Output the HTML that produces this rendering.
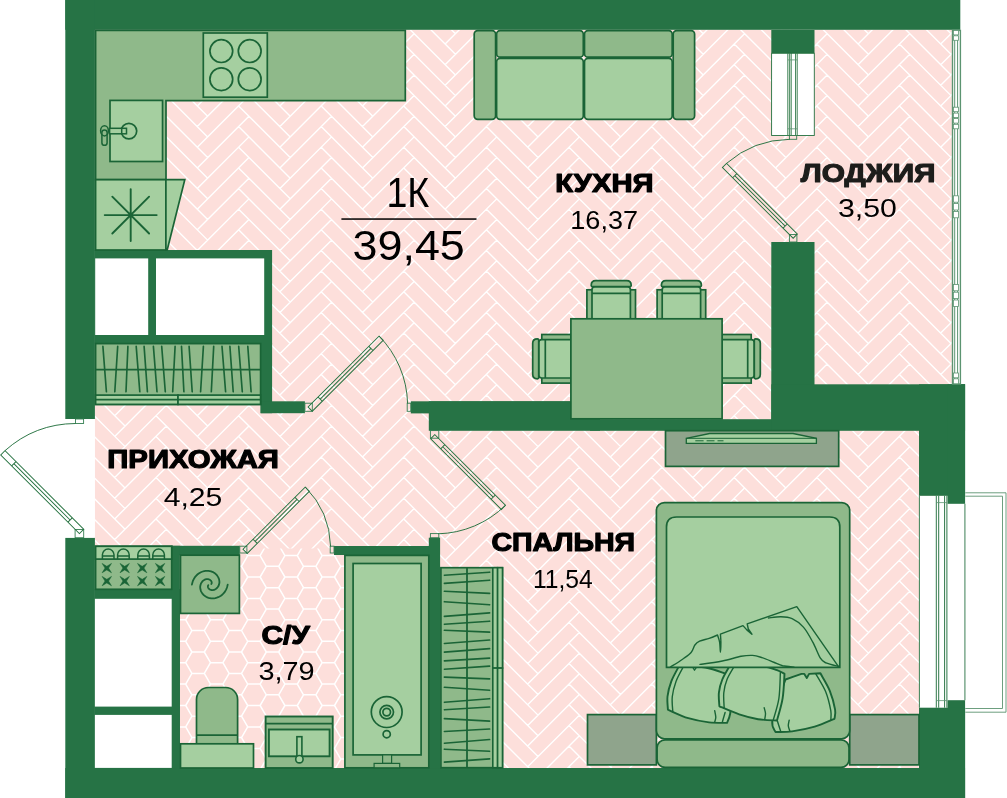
<!DOCTYPE html>
<html lang="ru"><head><meta charset="utf-8"><title>1К 39,45</title>
<style>html,body{margin:0;padding:0;background:#fff}svg{display:block}text{font-family:"Liberation Sans",sans-serif;fill:#000}.b{font-weight:700}</style></head>
<body>
<svg width="1007" height="798" viewBox="0 0 1007 798">
<defs><clipPath id="cf"><rect x="94.5" y="29.5" width="858.5" height="739.5"/></clipPath><clipPath id="cb"><path d="M179.5 555H239.8V548.6H334V555H345V769H179.5Z"/></clipPath></defs>
<rect width="1007" height="798" fill="#fff"/>
<!-- floors -->
<rect x="94.5" y="29.5" width="858.5" height="739.5" fill="#fddfdb"/>
<path clip-path="url(#cf)" d="M73.4 -17.9l51.62 51.62M73.4 2.7l51.62 51.62M73.4 23.3l51.62 51.62M73.4 44.0l51.62 51.62M73.4 64.7l51.62 51.62M73.4 85.3l51.62 51.62M73.4 105.9l51.62 51.62M73.4 126.6l51.62 51.62M73.4 147.2l51.62 51.62M73.4 167.9l51.62 51.62M73.4 188.5l51.62 51.62M73.4 209.2l51.62 51.62M73.4 229.8l51.62 51.62M73.4 250.5l51.62 51.62M73.4 271.1l51.62 51.62M73.4 291.8l51.62 51.62M73.4 312.4l51.62 51.62M73.4 333.1l51.62 51.62M73.4 353.8l51.62 51.62M73.4 374.4l51.62 51.62M73.4 395.0l51.62 51.62M73.4 415.7l51.62 51.62M73.4 436.4l51.62 51.62M73.4 457.0l51.62 51.62M73.4 477.6l51.62 51.62M73.4 498.3l51.62 51.62M73.4 518.9l51.62 51.62M73.4 539.6l51.62 51.62M73.4 560.2l51.62 51.62M73.4 580.9l51.62 51.62M73.4 601.5l51.62 51.62M73.4 622.2l51.62 51.62M73.4 642.9l51.62 51.62M73.4 663.5l51.62 51.62M73.4 684.1l51.62 51.62M73.4 704.8l51.62 51.62M73.4 725.4l51.62 51.62M73.4 746.1l51.62 51.62M73.4 766.8l51.62 51.62M156.0 -17.9l51.62 51.62M156.0 2.7l51.62 51.62M156.0 23.3l51.62 51.62M114.7 44.0l51.62 -51.62M156.0 44.0l51.62 51.62M114.7 64.7l51.62 -51.62M156.0 64.7l51.62 51.62M114.7 85.3l51.62 -51.62M156.0 85.3l51.62 51.62M114.7 105.9l51.62 -51.62M156.0 105.9l51.62 51.62M114.7 126.6l51.62 -51.62M156.0 126.6l51.62 51.62M114.7 147.2l51.62 -51.62M156.0 147.2l51.62 51.62M114.7 167.9l51.62 -51.62M156.0 167.9l51.62 51.62M114.7 188.5l51.62 -51.62M156.0 188.5l51.62 51.62M114.7 209.2l51.62 -51.62M156.0 209.2l51.62 51.62M114.7 229.8l51.62 -51.62M156.0 229.8l51.62 51.62M114.7 250.5l51.62 -51.62M156.0 250.5l51.62 51.62M114.7 271.1l51.62 -51.62M156.0 271.1l51.62 51.62M114.7 291.8l51.62 -51.62M156.0 291.8l51.62 51.62M114.7 312.4l51.62 -51.62M156.0 312.4l51.62 51.62M114.7 333.1l51.62 -51.62M156.0 333.1l51.62 51.62M114.7 353.8l51.62 -51.62M156.0 353.8l51.62 51.62M114.7 374.4l51.62 -51.62M156.0 374.4l51.62 51.62M114.7 395.0l51.62 -51.62M156.0 395.0l51.62 51.62M114.7 415.7l51.62 -51.62M156.0 415.7l51.62 51.62M114.7 436.4l51.62 -51.62M156.0 436.4l51.62 51.62M114.7 457.0l51.62 -51.62M156.0 457.0l51.62 51.62M114.7 477.6l51.62 -51.62M156.0 477.6l51.62 51.62M114.7 498.3l51.62 -51.62M156.0 498.3l51.62 51.62M114.7 518.9l51.62 -51.62M156.0 518.9l51.62 51.62M114.7 539.6l51.62 -51.62M156.0 539.6l51.62 51.62M114.7 560.2l51.62 -51.62M156.0 560.2l51.62 51.62M114.7 580.9l51.62 -51.62M156.0 580.9l51.62 51.62M114.7 601.5l51.62 -51.62M156.0 601.5l51.62 51.62M114.7 622.2l51.62 -51.62M156.0 622.2l51.62 51.62M114.7 642.9l51.62 -51.62M156.0 642.9l51.62 51.62M114.7 663.5l51.62 -51.62M156.0 663.5l51.62 51.62M114.7 684.1l51.62 -51.62M156.0 684.1l51.62 51.62M114.7 704.8l51.62 -51.62M156.0 704.8l51.62 51.62M114.7 725.4l51.62 -51.62M156.0 725.4l51.62 51.62M114.7 746.1l51.62 -51.62M156.0 746.1l51.62 51.62M114.7 766.8l51.62 -51.62M156.0 766.8l51.62 51.62M114.7 787.4l51.62 -51.62M114.7 808.0l51.62 -51.62M238.6 -17.9l51.62 51.62M238.6 2.7l51.62 51.62M238.6 23.3l51.62 51.62M197.3 44.0l51.62 -51.62M238.6 44.0l51.62 51.62M197.3 64.7l51.62 -51.62M238.6 64.7l51.62 51.62M197.3 85.3l51.62 -51.62M238.6 85.3l51.62 51.62M197.3 105.9l51.62 -51.62M238.6 105.9l51.62 51.62M197.3 126.6l51.62 -51.62M238.6 126.6l51.62 51.62M197.3 147.2l51.62 -51.62M238.6 147.2l51.62 51.62M197.3 167.9l51.62 -51.62M238.6 167.9l51.62 51.62M197.3 188.5l51.62 -51.62M238.6 188.5l51.62 51.62M197.3 209.2l51.62 -51.62M238.6 209.2l51.62 51.62M197.3 229.8l51.62 -51.62M238.6 229.8l51.62 51.62M197.3 250.5l51.62 -51.62M238.6 250.5l51.62 51.62M197.3 271.1l51.62 -51.62M238.6 271.1l51.62 51.62M197.3 291.8l51.62 -51.62M238.6 291.8l51.62 51.62M197.3 312.4l51.62 -51.62M238.6 312.4l51.62 51.62M197.3 333.1l51.62 -51.62M238.6 333.1l51.62 51.62M197.3 353.8l51.62 -51.62M238.6 353.8l51.62 51.62M197.3 374.4l51.62 -51.62M238.6 374.4l51.62 51.62M197.3 395.0l51.62 -51.62M238.6 395.0l51.62 51.62M197.3 415.7l51.62 -51.62M238.6 415.7l51.62 51.62M197.3 436.4l51.62 -51.62M238.6 436.4l51.62 51.62M197.3 457.0l51.62 -51.62M238.6 457.0l51.62 51.62M197.3 477.6l51.62 -51.62M238.6 477.6l51.62 51.62M197.3 498.3l51.62 -51.62M238.6 498.3l51.62 51.62M197.3 518.9l51.62 -51.62M238.6 518.9l51.62 51.62M197.3 539.6l51.62 -51.62M238.6 539.6l51.62 51.62M197.3 560.2l51.62 -51.62M238.6 560.2l51.62 51.62M197.3 580.9l51.62 -51.62M238.6 580.9l51.62 51.62M197.3 601.5l51.62 -51.62M238.6 601.5l51.62 51.62M197.3 622.2l51.62 -51.62M238.6 622.2l51.62 51.62M197.3 642.9l51.62 -51.62M238.6 642.9l51.62 51.62M197.3 663.5l51.62 -51.62M238.6 663.5l51.62 51.62M197.3 684.1l51.62 -51.62M238.6 684.1l51.62 51.62M197.3 704.8l51.62 -51.62M238.6 704.8l51.62 51.62M197.3 725.4l51.62 -51.62M238.6 725.4l51.62 51.62M197.3 746.1l51.62 -51.62M238.6 746.1l51.62 51.62M197.3 766.8l51.62 -51.62M238.6 766.8l51.62 51.62M197.3 787.4l51.62 -51.62M197.3 808.0l51.62 -51.62M321.2 -17.9l51.62 51.62M321.2 2.7l51.62 51.62M321.2 23.3l51.62 51.62M279.9 44.0l51.62 -51.62M321.2 44.0l51.62 51.62M279.9 64.7l51.62 -51.62M321.2 64.7l51.62 51.62M279.9 85.3l51.62 -51.62M321.2 85.3l51.62 51.62M279.9 105.9l51.62 -51.62M321.2 105.9l51.62 51.62M279.9 126.6l51.62 -51.62M321.2 126.6l51.62 51.62M279.9 147.2l51.62 -51.62M321.2 147.2l51.62 51.62M279.9 167.9l51.62 -51.62M321.2 167.9l51.62 51.62M279.9 188.5l51.62 -51.62M321.2 188.5l51.62 51.62M279.9 209.2l51.62 -51.62M321.2 209.2l51.62 51.62M279.9 229.8l51.62 -51.62M321.2 229.8l51.62 51.62M279.9 250.5l51.62 -51.62M321.2 250.5l51.62 51.62M279.9 271.1l51.62 -51.62M321.2 271.1l51.62 51.62M279.9 291.8l51.62 -51.62M321.2 291.8l51.62 51.62M279.9 312.4l51.62 -51.62M321.2 312.4l51.62 51.62M279.9 333.1l51.62 -51.62M321.2 333.1l51.62 51.62M279.9 353.8l51.62 -51.62M321.2 353.8l51.62 51.62M279.9 374.4l51.62 -51.62M321.2 374.4l51.62 51.62M279.9 395.0l51.62 -51.62M321.2 395.0l51.62 51.62M279.9 415.7l51.62 -51.62M321.2 415.7l51.62 51.62M279.9 436.4l51.62 -51.62M321.2 436.4l51.62 51.62M279.9 457.0l51.62 -51.62M321.2 457.0l51.62 51.62M279.9 477.6l51.62 -51.62M321.2 477.6l51.62 51.62M279.9 498.3l51.62 -51.62M321.2 498.3l51.62 51.62M279.9 518.9l51.62 -51.62M321.2 518.9l51.62 51.62M279.9 539.6l51.62 -51.62M321.2 539.6l51.62 51.62M279.9 560.2l51.62 -51.62M321.2 560.2l51.62 51.62M279.9 580.9l51.62 -51.62M321.2 580.9l51.62 51.62M279.9 601.5l51.62 -51.62M321.2 601.5l51.62 51.62M279.9 622.2l51.62 -51.62M321.2 622.2l51.62 51.62M279.9 642.9l51.62 -51.62M321.2 642.9l51.62 51.62M279.9 663.5l51.62 -51.62M321.2 663.5l51.62 51.62M279.9 684.1l51.62 -51.62M321.2 684.1l51.62 51.62M279.9 704.8l51.62 -51.62M321.2 704.8l51.62 51.62M279.9 725.4l51.62 -51.62M321.2 725.4l51.62 51.62M279.9 746.1l51.62 -51.62M321.2 746.1l51.62 51.62M279.9 766.8l51.62 -51.62M321.2 766.8l51.62 51.62M279.9 787.4l51.62 -51.62M279.9 808.0l51.62 -51.62M403.8 -17.9l51.62 51.62M403.8 2.7l51.62 51.62M403.8 23.3l51.62 51.62M362.5 44.0l51.62 -51.62M403.8 44.0l51.62 51.62M362.5 64.7l51.62 -51.62M403.8 64.7l51.62 51.62M362.5 85.3l51.62 -51.62M403.8 85.3l51.62 51.62M362.5 105.9l51.62 -51.62M403.8 105.9l51.62 51.62M362.5 126.6l51.62 -51.62M403.8 126.6l51.62 51.62M362.5 147.2l51.62 -51.62M403.8 147.2l51.62 51.62M362.5 167.9l51.62 -51.62M403.8 167.9l51.62 51.62M362.5 188.5l51.62 -51.62M403.8 188.5l51.62 51.62M362.5 209.2l51.62 -51.62M403.8 209.2l51.62 51.62M362.5 229.8l51.62 -51.62M403.8 229.8l51.62 51.62M362.5 250.5l51.62 -51.62M403.8 250.5l51.62 51.62M362.5 271.1l51.62 -51.62M403.8 271.1l51.62 51.62M362.5 291.8l51.62 -51.62M403.8 291.8l51.62 51.62M362.5 312.4l51.62 -51.62M403.8 312.4l51.62 51.62M362.5 333.1l51.62 -51.62M403.8 333.1l51.62 51.62M362.5 353.8l51.62 -51.62M403.8 353.8l51.62 51.62M362.5 374.4l51.62 -51.62M403.8 374.4l51.62 51.62M362.5 395.0l51.62 -51.62M403.8 395.0l51.62 51.62M362.5 415.7l51.62 -51.62M403.8 415.7l51.62 51.62M362.5 436.4l51.62 -51.62M403.8 436.4l51.62 51.62M362.5 457.0l51.62 -51.62M403.8 457.0l51.62 51.62M362.5 477.6l51.62 -51.62M403.8 477.6l51.62 51.62M362.5 498.3l51.62 -51.62M403.8 498.3l51.62 51.62M362.5 518.9l51.62 -51.62M403.8 518.9l51.62 51.62M362.5 539.6l51.62 -51.62M403.8 539.6l51.62 51.62M362.5 560.2l51.62 -51.62M403.8 560.2l51.62 51.62M362.5 580.9l51.62 -51.62M403.8 580.9l51.62 51.62M362.5 601.5l51.62 -51.62M403.8 601.5l51.62 51.62M362.5 622.2l51.62 -51.62M403.8 622.2l51.62 51.62M362.5 642.9l51.62 -51.62M403.8 642.9l51.62 51.62M362.5 663.5l51.62 -51.62M403.8 663.5l51.62 51.62M362.5 684.1l51.62 -51.62M403.8 684.1l51.62 51.62M362.5 704.8l51.62 -51.62M403.8 704.8l51.62 51.62M362.5 725.4l51.62 -51.62M403.8 725.4l51.62 51.62M362.5 746.1l51.62 -51.62M403.8 746.1l51.62 51.62M362.5 766.8l51.62 -51.62M403.8 766.8l51.62 51.62M362.5 787.4l51.62 -51.62M362.5 808.0l51.62 -51.62M486.4 -17.9l51.62 51.62M486.4 2.7l51.62 51.62M486.4 23.3l51.62 51.62M445.1 44.0l51.62 -51.62M486.4 44.0l51.62 51.62M445.1 64.7l51.62 -51.62M486.4 64.7l51.62 51.62M445.1 85.3l51.62 -51.62M486.4 85.3l51.62 51.62M445.1 105.9l51.62 -51.62M486.4 105.9l51.62 51.62M445.1 126.6l51.62 -51.62M486.4 126.6l51.62 51.62M445.1 147.2l51.62 -51.62M486.4 147.2l51.62 51.62M445.1 167.9l51.62 -51.62M486.4 167.9l51.62 51.62M445.1 188.5l51.62 -51.62M486.4 188.5l51.62 51.62M445.1 209.2l51.62 -51.62M486.4 209.2l51.62 51.62M445.1 229.8l51.62 -51.62M486.4 229.8l51.62 51.62M445.1 250.5l51.62 -51.62M486.4 250.5l51.62 51.62M445.1 271.1l51.62 -51.62M486.4 271.1l51.62 51.62M445.1 291.8l51.62 -51.62M486.4 291.8l51.62 51.62M445.1 312.4l51.62 -51.62M486.4 312.4l51.62 51.62M445.1 333.1l51.62 -51.62M486.4 333.1l51.62 51.62M445.1 353.8l51.62 -51.62M486.4 353.8l51.62 51.62M445.1 374.4l51.62 -51.62M486.4 374.4l51.62 51.62M445.1 395.0l51.62 -51.62M486.4 395.0l51.62 51.62M445.1 415.7l51.62 -51.62M486.4 415.7l51.62 51.62M445.1 436.4l51.62 -51.62M486.4 436.4l51.62 51.62M445.1 457.0l51.62 -51.62M486.4 457.0l51.62 51.62M445.1 477.6l51.62 -51.62M486.4 477.6l51.62 51.62M445.1 498.3l51.62 -51.62M486.4 498.3l51.62 51.62M445.1 518.9l51.62 -51.62M486.4 518.9l51.62 51.62M445.1 539.6l51.62 -51.62M486.4 539.6l51.62 51.62M445.1 560.2l51.62 -51.62M486.4 560.2l51.62 51.62M445.1 580.9l51.62 -51.62M486.4 580.9l51.62 51.62M445.1 601.5l51.62 -51.62M486.4 601.5l51.62 51.62M445.1 622.2l51.62 -51.62M486.4 622.2l51.62 51.62M445.1 642.9l51.62 -51.62M486.4 642.9l51.62 51.62M445.1 663.5l51.62 -51.62M486.4 663.5l51.62 51.62M445.1 684.1l51.62 -51.62M486.4 684.1l51.62 51.62M445.1 704.8l51.62 -51.62M486.4 704.8l51.62 51.62M445.1 725.4l51.62 -51.62M486.4 725.4l51.62 51.62M445.1 746.1l51.62 -51.62M486.4 746.1l51.62 51.62M445.1 766.8l51.62 -51.62M486.4 766.8l51.62 51.62M445.1 787.4l51.62 -51.62M445.1 808.0l51.62 -51.62M569.0 -17.9l51.62 51.62M569.0 2.7l51.62 51.62M569.0 23.3l51.62 51.62M527.7 44.0l51.62 -51.62M569.0 44.0l51.62 51.62M527.7 64.7l51.62 -51.62M569.0 64.7l51.62 51.62M527.7 85.3l51.62 -51.62M569.0 85.3l51.62 51.62M527.7 105.9l51.62 -51.62M569.0 105.9l51.62 51.62M527.7 126.6l51.62 -51.62M569.0 126.6l51.62 51.62M527.7 147.2l51.62 -51.62M569.0 147.2l51.62 51.62M527.7 167.9l51.62 -51.62M569.0 167.9l51.62 51.62M527.7 188.5l51.62 -51.62M569.0 188.5l51.62 51.62M527.7 209.2l51.62 -51.62M569.0 209.2l51.62 51.62M527.7 229.8l51.62 -51.62M569.0 229.8l51.62 51.62M527.7 250.5l51.62 -51.62M569.0 250.5l51.62 51.62M527.7 271.1l51.62 -51.62M569.0 271.1l51.62 51.62M527.7 291.8l51.62 -51.62M569.0 291.8l51.62 51.62M527.7 312.4l51.62 -51.62M569.0 312.4l51.62 51.62M527.7 333.1l51.62 -51.62M569.0 333.1l51.62 51.62M527.7 353.8l51.62 -51.62M569.0 353.8l51.62 51.62M527.7 374.4l51.62 -51.62M569.0 374.4l51.62 51.62M527.7 395.0l51.62 -51.62M569.0 395.0l51.62 51.62M527.7 415.7l51.62 -51.62M569.0 415.7l51.62 51.62M527.7 436.4l51.62 -51.62M569.0 436.4l51.62 51.62M527.7 457.0l51.62 -51.62M569.0 457.0l51.62 51.62M527.7 477.6l51.62 -51.62M569.0 477.6l51.62 51.62M527.7 498.3l51.62 -51.62M569.0 498.3l51.62 51.62M527.7 518.9l51.62 -51.62M569.0 518.9l51.62 51.62M527.7 539.6l51.62 -51.62M569.0 539.6l51.62 51.62M527.7 560.2l51.62 -51.62M569.0 560.2l51.62 51.62M527.7 580.9l51.62 -51.62M569.0 580.9l51.62 51.62M527.7 601.5l51.62 -51.62M569.0 601.5l51.62 51.62M527.7 622.2l51.62 -51.62M569.0 622.2l51.62 51.62M527.7 642.9l51.62 -51.62M569.0 642.9l51.62 51.62M527.7 663.5l51.62 -51.62M569.0 663.5l51.62 51.62M527.7 684.1l51.62 -51.62M569.0 684.1l51.62 51.62M527.7 704.8l51.62 -51.62M569.0 704.8l51.62 51.62M527.7 725.4l51.62 -51.62M569.0 725.4l51.62 51.62M527.7 746.1l51.62 -51.62M569.0 746.1l51.62 51.62M527.7 766.8l51.62 -51.62M569.0 766.8l51.62 51.62M527.7 787.4l51.62 -51.62M527.7 808.0l51.62 -51.62M651.6 -17.9l51.62 51.62M651.6 2.7l51.62 51.62M651.6 23.3l51.62 51.62M610.3 44.0l51.62 -51.62M651.6 44.0l51.62 51.62M610.3 64.7l51.62 -51.62M651.6 64.7l51.62 51.62M610.3 85.3l51.62 -51.62M651.6 85.3l51.62 51.62M610.3 105.9l51.62 -51.62M651.6 105.9l51.62 51.62M610.3 126.6l51.62 -51.62M651.6 126.6l51.62 51.62M610.3 147.2l51.62 -51.62M651.6 147.2l51.62 51.62M610.3 167.9l51.62 -51.62M651.6 167.9l51.62 51.62M610.3 188.5l51.62 -51.62M651.6 188.5l51.62 51.62M610.3 209.2l51.62 -51.62M651.6 209.2l51.62 51.62M610.3 229.8l51.62 -51.62M651.6 229.8l51.62 51.62M610.3 250.5l51.62 -51.62M651.6 250.5l51.62 51.62M610.3 271.1l51.62 -51.62M651.6 271.1l51.62 51.62M610.3 291.8l51.62 -51.62M651.6 291.8l51.62 51.62M610.3 312.4l51.62 -51.62M651.6 312.4l51.62 51.62M610.3 333.1l51.62 -51.62M651.6 333.1l51.62 51.62M610.3 353.8l51.62 -51.62M651.6 353.8l51.62 51.62M610.3 374.4l51.62 -51.62M651.6 374.4l51.62 51.62M610.3 395.0l51.62 -51.62M651.6 395.0l51.62 51.62M610.3 415.7l51.62 -51.62M651.6 415.7l51.62 51.62M610.3 436.4l51.62 -51.62M651.6 436.4l51.62 51.62M610.3 457.0l51.62 -51.62M651.6 457.0l51.62 51.62M610.3 477.6l51.62 -51.62M651.6 477.6l51.62 51.62M610.3 498.3l51.62 -51.62M651.6 498.3l51.62 51.62M610.3 518.9l51.62 -51.62M651.6 518.9l51.62 51.62M610.3 539.6l51.62 -51.62M651.6 539.6l51.62 51.62M610.3 560.2l51.62 -51.62M651.6 560.2l51.62 51.62M610.3 580.9l51.62 -51.62M651.6 580.9l51.62 51.62M610.3 601.5l51.62 -51.62M651.6 601.5l51.62 51.62M610.3 622.2l51.62 -51.62M651.6 622.2l51.62 51.62M610.3 642.9l51.62 -51.62M651.6 642.9l51.62 51.62M610.3 663.5l51.62 -51.62M651.6 663.5l51.62 51.62M610.3 684.1l51.62 -51.62M651.6 684.1l51.62 51.62M610.3 704.8l51.62 -51.62M651.6 704.8l51.62 51.62M610.3 725.4l51.62 -51.62M651.6 725.4l51.62 51.62M610.3 746.1l51.62 -51.62M651.6 746.1l51.62 51.62M610.3 766.8l51.62 -51.62M651.6 766.8l51.62 51.62M610.3 787.4l51.62 -51.62M610.3 808.0l51.62 -51.62M734.2 -17.9l51.62 51.62M734.2 2.7l51.62 51.62M734.2 23.3l51.62 51.62M692.9 44.0l51.62 -51.62M734.2 44.0l51.62 51.62M692.9 64.7l51.62 -51.62M734.2 64.7l51.62 51.62M692.9 85.3l51.62 -51.62M734.2 85.3l51.62 51.62M692.9 105.9l51.62 -51.62M734.2 105.9l51.62 51.62M692.9 126.6l51.62 -51.62M734.2 126.6l51.62 51.62M692.9 147.2l51.62 -51.62M734.2 147.2l51.62 51.62M692.9 167.9l51.62 -51.62M734.2 167.9l51.62 51.62M692.9 188.5l51.62 -51.62M734.2 188.5l51.62 51.62M692.9 209.2l51.62 -51.62M734.2 209.2l51.62 51.62M692.9 229.8l51.62 -51.62M734.2 229.8l51.62 51.62M692.9 250.5l51.62 -51.62M734.2 250.5l51.62 51.62M692.9 271.1l51.62 -51.62M734.2 271.1l51.62 51.62M692.9 291.8l51.62 -51.62M734.2 291.8l51.62 51.62M692.9 312.4l51.62 -51.62M734.2 312.4l51.62 51.62M692.9 333.1l51.62 -51.62M734.2 333.1l51.62 51.62M692.9 353.8l51.62 -51.62M734.2 353.8l51.62 51.62M692.9 374.4l51.62 -51.62M734.2 374.4l51.62 51.62M692.9 395.0l51.62 -51.62M734.2 395.0l51.62 51.62M692.9 415.7l51.62 -51.62M734.2 415.7l51.62 51.62M692.9 436.4l51.62 -51.62M734.2 436.4l51.62 51.62M692.9 457.0l51.62 -51.62M734.2 457.0l51.62 51.62M692.9 477.6l51.62 -51.62M734.2 477.6l51.62 51.62M692.9 498.3l51.62 -51.62M734.2 498.3l51.62 51.62M692.9 518.9l51.62 -51.62M734.2 518.9l51.62 51.62M692.9 539.6l51.62 -51.62M734.2 539.6l51.62 51.62M692.9 560.2l51.62 -51.62M734.2 560.2l51.62 51.62M692.9 580.9l51.62 -51.62M734.2 580.9l51.62 51.62M692.9 601.5l51.62 -51.62M734.2 601.5l51.62 51.62M692.9 622.2l51.62 -51.62M734.2 622.2l51.62 51.62M692.9 642.9l51.62 -51.62M734.2 642.9l51.62 51.62M692.9 663.5l51.62 -51.62M734.2 663.5l51.62 51.62M692.9 684.1l51.62 -51.62M734.2 684.1l51.62 51.62M692.9 704.8l51.62 -51.62M734.2 704.8l51.62 51.62M692.9 725.4l51.62 -51.62M734.2 725.4l51.62 51.62M692.9 746.1l51.62 -51.62M734.2 746.1l51.62 51.62M692.9 766.8l51.62 -51.62M734.2 766.8l51.62 51.62M692.9 787.4l51.62 -51.62M692.9 808.0l51.62 -51.62M816.8 -17.9l51.62 51.62M816.8 2.7l51.62 51.62M816.8 23.3l51.62 51.62M775.5 44.0l51.62 -51.62M816.8 44.0l51.62 51.62M775.5 64.7l51.62 -51.62M816.8 64.7l51.62 51.62M775.5 85.3l51.62 -51.62M816.8 85.3l51.62 51.62M775.5 105.9l51.62 -51.62M816.8 105.9l51.62 51.62M775.5 126.6l51.62 -51.62M816.8 126.6l51.62 51.62M775.5 147.2l51.62 -51.62M816.8 147.2l51.62 51.62M775.5 167.9l51.62 -51.62M816.8 167.9l51.62 51.62M775.5 188.5l51.62 -51.62M816.8 188.5l51.62 51.62M775.5 209.2l51.62 -51.62M816.8 209.2l51.62 51.62M775.5 229.8l51.62 -51.62M816.8 229.8l51.62 51.62M775.5 250.5l51.62 -51.62M816.8 250.5l51.62 51.62M775.5 271.1l51.62 -51.62M816.8 271.1l51.62 51.62M775.5 291.8l51.62 -51.62M816.8 291.8l51.62 51.62M775.5 312.4l51.62 -51.62M816.8 312.4l51.62 51.62M775.5 333.1l51.62 -51.62M816.8 333.1l51.62 51.62M775.5 353.8l51.62 -51.62M816.8 353.8l51.62 51.62M775.5 374.4l51.62 -51.62M816.8 374.4l51.62 51.62M775.5 395.0l51.62 -51.62M816.8 395.0l51.62 51.62M775.5 415.7l51.62 -51.62M816.8 415.7l51.62 51.62M775.5 436.4l51.62 -51.62M816.8 436.4l51.62 51.62M775.5 457.0l51.62 -51.62M816.8 457.0l51.62 51.62M775.5 477.6l51.62 -51.62M816.8 477.6l51.62 51.62M775.5 498.3l51.62 -51.62M816.8 498.3l51.62 51.62M775.5 518.9l51.62 -51.62M816.8 518.9l51.62 51.62M775.5 539.6l51.62 -51.62M816.8 539.6l51.62 51.62M775.5 560.2l51.62 -51.62M816.8 560.2l51.62 51.62M775.5 580.9l51.62 -51.62M816.8 580.9l51.62 51.62M775.5 601.5l51.62 -51.62M816.8 601.5l51.62 51.62M775.5 622.2l51.62 -51.62M816.8 622.2l51.62 51.62M775.5 642.9l51.62 -51.62M816.8 642.9l51.62 51.62M775.5 663.5l51.62 -51.62M816.8 663.5l51.62 51.62M775.5 684.1l51.62 -51.62M816.8 684.1l51.62 51.62M775.5 704.8l51.62 -51.62M816.8 704.8l51.62 51.62M775.5 725.4l51.62 -51.62M816.8 725.4l51.62 51.62M775.5 746.1l51.62 -51.62M816.8 746.1l51.62 51.62M775.5 766.8l51.62 -51.62M816.8 766.8l51.62 51.62M775.5 787.4l51.62 -51.62M775.5 808.0l51.62 -51.62M899.4 -17.9l51.62 51.62M899.4 2.7l51.62 51.62M899.4 23.3l51.62 51.62M858.1 44.0l51.62 -51.62M899.4 44.0l51.62 51.62M858.1 64.7l51.62 -51.62M899.4 64.7l51.62 51.62M858.1 85.3l51.62 -51.62M899.4 85.3l51.62 51.62M858.1 105.9l51.62 -51.62M899.4 105.9l51.62 51.62M858.1 126.6l51.62 -51.62M899.4 126.6l51.62 51.62M858.1 147.2l51.62 -51.62M899.4 147.2l51.62 51.62M858.1 167.9l51.62 -51.62M899.4 167.9l51.62 51.62M858.1 188.5l51.62 -51.62M899.4 188.5l51.62 51.62M858.1 209.2l51.62 -51.62M899.4 209.2l51.62 51.62M858.1 229.8l51.62 -51.62M899.4 229.8l51.62 51.62M858.1 250.5l51.62 -51.62M899.4 250.5l51.62 51.62M858.1 271.1l51.62 -51.62M899.4 271.1l51.62 51.62M858.1 291.8l51.62 -51.62M899.4 291.8l51.62 51.62M858.1 312.4l51.62 -51.62M899.4 312.4l51.62 51.62M858.1 333.1l51.62 -51.62M899.4 333.1l51.62 51.62M858.1 353.8l51.62 -51.62M899.4 353.8l51.62 51.62M858.1 374.4l51.62 -51.62M899.4 374.4l51.62 51.62M858.1 395.0l51.62 -51.62M899.4 395.0l51.62 51.62M858.1 415.7l51.62 -51.62M899.4 415.7l51.62 51.62M858.1 436.4l51.62 -51.62M899.4 436.4l51.62 51.62M858.1 457.0l51.62 -51.62M899.4 457.0l51.62 51.62M858.1 477.6l51.62 -51.62M899.4 477.6l51.62 51.62M858.1 498.3l51.62 -51.62M899.4 498.3l51.62 51.62M858.1 518.9l51.62 -51.62M899.4 518.9l51.62 51.62M858.1 539.6l51.62 -51.62M899.4 539.6l51.62 51.62M858.1 560.2l51.62 -51.62M899.4 560.2l51.62 51.62M858.1 580.9l51.62 -51.62M899.4 580.9l51.62 51.62M858.1 601.5l51.62 -51.62M899.4 601.5l51.62 51.62M858.1 622.2l51.62 -51.62M899.4 622.2l51.62 51.62M858.1 642.9l51.62 -51.62M899.4 642.9l51.62 51.62M858.1 663.5l51.62 -51.62M899.4 663.5l51.62 51.62M858.1 684.1l51.62 -51.62M899.4 684.1l51.62 51.62M858.1 704.8l51.62 -51.62M899.4 704.8l51.62 51.62M858.1 725.4l51.62 -51.62M899.4 725.4l51.62 51.62M858.1 746.1l51.62 -51.62M899.4 746.1l51.62 51.62M858.1 766.8l51.62 -51.62M899.4 766.8l51.62 51.62M858.1 787.4l51.62 -51.62M858.1 808.0l51.62 -51.62M940.7 44.0l51.62 -51.62M940.7 64.7l51.62 -51.62M940.7 85.3l51.62 -51.62M940.7 105.9l51.62 -51.62M940.7 126.6l51.62 -51.62M940.7 147.2l51.62 -51.62M940.7 167.9l51.62 -51.62M940.7 188.5l51.62 -51.62M940.7 209.2l51.62 -51.62M940.7 229.8l51.62 -51.62M940.7 250.5l51.62 -51.62M940.7 271.1l51.62 -51.62M940.7 291.8l51.62 -51.62M940.7 312.4l51.62 -51.62M940.7 333.1l51.62 -51.62M940.7 353.8l51.62 -51.62M940.7 374.4l51.62 -51.62M940.7 395.0l51.62 -51.62M940.7 415.7l51.62 -51.62M940.7 436.4l51.62 -51.62M940.7 457.0l51.62 -51.62M940.7 477.6l51.62 -51.62M940.7 498.3l51.62 -51.62M940.7 518.9l51.62 -51.62M940.7 539.6l51.62 -51.62M940.7 560.2l51.62 -51.62M940.7 580.9l51.62 -51.62M940.7 601.5l51.62 -51.62M940.7 622.2l51.62 -51.62M940.7 642.9l51.62 -51.62M940.7 663.5l51.62 -51.62M940.7 684.1l51.62 -51.62M940.7 704.8l51.62 -51.62M940.7 725.4l51.62 -51.62M940.7 746.1l51.62 -51.62M940.7 766.8l51.62 -51.62M940.7 787.4l51.62 -51.62M940.7 808.0l51.62 -51.62" stroke="#fff" stroke-width="1.4" fill="none"/>
<path d="M179.5 555H239.8V548.6H334V555H345V769H179.5Z" fill="#fddfdb"/>
<path clip-path="url(#cb)" d="M154.7 502.0L167.1 502.0L173.3 512.7L167.1 523.5M154.7 523.4L167.1 523.4L173.3 534.2L167.1 544.9M154.7 544.9L167.1 544.9L173.3 555.6L167.1 566.3M154.7 566.3L167.1 566.3L173.3 577.0L167.1 587.7M154.7 587.7L167.1 587.7L173.3 598.4L167.1 609.1M154.7 609.1L167.1 609.1L173.3 619.8L167.1 630.6M154.7 630.5L167.1 630.5L173.3 641.3L167.1 652.0M154.7 652.0L167.1 652.0L173.3 662.7L167.1 673.4M154.7 673.4L167.1 673.4L173.3 684.1L167.1 694.8M154.7 694.8L167.1 694.8L173.3 705.5L167.1 716.2M154.7 716.2L167.1 716.2L173.3 726.9L167.1 737.7M154.7 737.6L167.1 737.6L173.3 748.4L167.1 759.1M154.7 759.1L167.1 759.1L173.3 769.8L167.1 780.5M154.7 780.5L167.1 780.5L173.3 791.2L167.1 801.9M173.3 512.7L185.7 512.7L191.9 523.5L185.7 534.2M173.3 534.2L185.7 534.2L191.9 544.9L185.7 555.6M173.3 555.6L185.7 555.6L191.9 566.3L185.7 577.0M173.3 577.0L185.7 577.0L191.9 587.7L185.7 598.4M173.3 598.4L185.7 598.4L191.9 609.1L185.7 619.8M173.3 619.8L185.7 619.8L191.9 630.6L185.7 641.3M173.3 641.3L185.7 641.3L191.9 652.0L185.7 662.7M173.3 662.7L185.7 662.7L191.9 673.4L185.7 684.1M173.3 684.1L185.7 684.1L191.9 694.8L185.7 705.5M173.3 705.5L185.7 705.5L191.9 716.2L185.7 726.9M173.3 726.9L185.7 726.9L191.9 737.7L185.7 748.4M173.3 748.4L185.7 748.4L191.9 759.1L185.7 769.8M173.3 769.8L185.7 769.8L191.9 780.5L185.7 791.2M173.3 791.2L185.7 791.2L191.9 801.9L185.7 812.6M191.9 502.0L204.3 502.0L210.5 512.7L204.3 523.5M191.9 523.4L204.3 523.4L210.5 534.2L204.3 544.9M191.9 544.9L204.3 544.9L210.5 555.6L204.3 566.3M191.9 566.3L204.3 566.3L210.5 577.0L204.3 587.7M191.9 587.7L204.3 587.7L210.5 598.4L204.3 609.1M191.9 609.1L204.3 609.1L210.5 619.8L204.3 630.6M191.9 630.5L204.3 630.5L210.5 641.3L204.3 652.0M191.9 652.0L204.3 652.0L210.5 662.7L204.3 673.4M191.9 673.4L204.3 673.4L210.5 684.1L204.3 694.8M191.9 694.8L204.3 694.8L210.5 705.5L204.3 716.2M191.9 716.2L204.3 716.2L210.5 726.9L204.3 737.7M191.9 737.6L204.3 737.6L210.5 748.4L204.3 759.1M191.9 759.1L204.3 759.1L210.5 769.8L204.3 780.5M191.9 780.5L204.3 780.5L210.5 791.2L204.3 801.9M210.5 512.7L222.9 512.7L229.1 523.5L222.9 534.2M210.5 534.2L222.9 534.2L229.1 544.9L222.9 555.6M210.5 555.6L222.9 555.6L229.1 566.3L222.9 577.0M210.5 577.0L222.9 577.0L229.1 587.7L222.9 598.4M210.5 598.4L222.9 598.4L229.1 609.1L222.9 619.8M210.5 619.8L222.9 619.8L229.1 630.6L222.9 641.3M210.5 641.3L222.9 641.3L229.1 652.0L222.9 662.7M210.5 662.7L222.9 662.7L229.1 673.4L222.9 684.1M210.5 684.1L222.9 684.1L229.1 694.8L222.9 705.5M210.5 705.5L222.9 705.5L229.1 716.2L222.9 726.9M210.5 726.9L222.9 726.9L229.1 737.7L222.9 748.4M210.5 748.4L222.9 748.4L229.1 759.1L222.9 769.8M210.5 769.8L222.9 769.8L229.1 780.5L222.9 791.2M210.5 791.2L222.9 791.2L229.1 801.9L222.9 812.6M229.1 502.0L241.5 502.0L247.7 512.7L241.5 523.5M229.1 523.4L241.5 523.4L247.7 534.2L241.5 544.9M229.1 544.9L241.5 544.9L247.7 555.6L241.5 566.3M229.1 566.3L241.5 566.3L247.7 577.0L241.5 587.7M229.1 587.7L241.5 587.7L247.7 598.4L241.5 609.1M229.1 609.1L241.5 609.1L247.7 619.8L241.5 630.6M229.1 630.5L241.5 630.5L247.7 641.3L241.5 652.0M229.1 652.0L241.5 652.0L247.7 662.7L241.5 673.4M229.1 673.4L241.5 673.4L247.7 684.1L241.5 694.8M229.1 694.8L241.5 694.8L247.7 705.5L241.5 716.2M229.1 716.2L241.5 716.2L247.7 726.9L241.5 737.7M229.1 737.6L241.5 737.6L247.7 748.4L241.5 759.1M229.1 759.1L241.5 759.1L247.7 769.8L241.5 780.5M229.1 780.5L241.5 780.5L247.7 791.2L241.5 801.9M247.7 512.7L260.1 512.7L266.3 523.5L260.1 534.2M247.7 534.2L260.1 534.2L266.3 544.9L260.1 555.6M247.7 555.6L260.1 555.6L266.3 566.3L260.1 577.0M247.7 577.0L260.1 577.0L266.3 587.7L260.1 598.4M247.7 598.4L260.1 598.4L266.3 609.1L260.1 619.8M247.7 619.8L260.1 619.8L266.3 630.6L260.1 641.3M247.7 641.3L260.1 641.3L266.3 652.0L260.1 662.7M247.7 662.7L260.1 662.7L266.3 673.4L260.1 684.1M247.7 684.1L260.1 684.1L266.3 694.8L260.1 705.5M247.7 705.5L260.1 705.5L266.3 716.2L260.1 726.9M247.7 726.9L260.1 726.9L266.3 737.7L260.1 748.4M247.7 748.4L260.1 748.4L266.3 759.1L260.1 769.8M247.7 769.8L260.1 769.8L266.3 780.5L260.1 791.2M247.7 791.2L260.1 791.2L266.3 801.9L260.1 812.6M266.3 502.0L278.7 502.0L284.9 512.7L278.7 523.5M266.3 523.4L278.7 523.4L284.9 534.2L278.7 544.9M266.3 544.9L278.7 544.9L284.9 555.6L278.7 566.3M266.3 566.3L278.7 566.3L284.9 577.0L278.7 587.7M266.3 587.7L278.7 587.7L284.9 598.4L278.7 609.1M266.3 609.1L278.7 609.1L284.9 619.8L278.7 630.6M266.3 630.5L278.7 630.5L284.9 641.3L278.7 652.0M266.3 652.0L278.7 652.0L284.9 662.7L278.7 673.4M266.3 673.4L278.7 673.4L284.9 684.1L278.7 694.8M266.3 694.8L278.7 694.8L284.9 705.5L278.7 716.2M266.3 716.2L278.7 716.2L284.9 726.9L278.7 737.7M266.3 737.6L278.7 737.6L284.9 748.4L278.7 759.1M266.3 759.1L278.7 759.1L284.9 769.8L278.7 780.5M266.3 780.5L278.7 780.5L284.9 791.2L278.7 801.9M284.9 512.7L297.3 512.7L303.5 523.5L297.3 534.2M284.9 534.2L297.3 534.2L303.5 544.9L297.3 555.6M284.9 555.6L297.3 555.6L303.5 566.3L297.3 577.0M284.9 577.0L297.3 577.0L303.5 587.7L297.3 598.4M284.9 598.4L297.3 598.4L303.5 609.1L297.3 619.8M284.9 619.8L297.3 619.8L303.5 630.6L297.3 641.3M284.9 641.3L297.3 641.3L303.5 652.0L297.3 662.7M284.9 662.7L297.3 662.7L303.5 673.4L297.3 684.1M284.9 684.1L297.3 684.1L303.5 694.8L297.3 705.5M284.9 705.5L297.3 705.5L303.5 716.2L297.3 726.9M284.9 726.9L297.3 726.9L303.5 737.7L297.3 748.4M284.9 748.4L297.3 748.4L303.5 759.1L297.3 769.8M284.9 769.8L297.3 769.8L303.5 780.5L297.3 791.2M284.9 791.2L297.3 791.2L303.5 801.9L297.3 812.6M303.5 502.0L315.9 502.0L322.1 512.7L315.9 523.5M303.5 523.4L315.9 523.4L322.1 534.2L315.9 544.9M303.5 544.9L315.9 544.9L322.1 555.6L315.9 566.3M303.5 566.3L315.9 566.3L322.1 577.0L315.9 587.7M303.5 587.7L315.9 587.7L322.1 598.4L315.9 609.1M303.5 609.1L315.9 609.1L322.1 619.8L315.9 630.6M303.5 630.5L315.9 630.5L322.1 641.3L315.9 652.0M303.5 652.0L315.9 652.0L322.1 662.7L315.9 673.4M303.5 673.4L315.9 673.4L322.1 684.1L315.9 694.8M303.5 694.8L315.9 694.8L322.1 705.5L315.9 716.2M303.5 716.2L315.9 716.2L322.1 726.9L315.9 737.7M303.5 737.6L315.9 737.6L322.1 748.4L315.9 759.1M303.5 759.1L315.9 759.1L322.1 769.8L315.9 780.5M303.5 780.5L315.9 780.5L322.1 791.2L315.9 801.9M322.1 512.7L334.5 512.7L340.7 523.5L334.5 534.2M322.1 534.2L334.5 534.2L340.7 544.9L334.5 555.6M322.1 555.6L334.5 555.6L340.7 566.3L334.5 577.0M322.1 577.0L334.5 577.0L340.7 587.7L334.5 598.4M322.1 598.4L334.5 598.4L340.7 609.1L334.5 619.8M322.1 619.8L334.5 619.8L340.7 630.6L334.5 641.3M322.1 641.3L334.5 641.3L340.7 652.0L334.5 662.7M322.1 662.7L334.5 662.7L340.7 673.4L334.5 684.1M322.1 684.1L334.5 684.1L340.7 694.8L334.5 705.5M322.1 705.5L334.5 705.5L340.7 716.2L334.5 726.9M322.1 726.9L334.5 726.9L340.7 737.7L334.5 748.4M322.1 748.4L334.5 748.4L340.7 759.1L334.5 769.8M322.1 769.8L334.5 769.8L340.7 780.5L334.5 791.2M322.1 791.2L334.5 791.2L340.7 801.9L334.5 812.6M340.7 502.0L353.1 502.0L359.3 512.7L353.1 523.5M340.7 523.4L353.1 523.4L359.3 534.2L353.1 544.9M340.7 544.9L353.1 544.9L359.3 555.6L353.1 566.3M340.7 566.3L353.1 566.3L359.3 577.0L353.1 587.7M340.7 587.7L353.1 587.7L359.3 598.4L353.1 609.1M340.7 609.1L353.1 609.1L359.3 619.8L353.1 630.6M340.7 630.5L353.1 630.5L359.3 641.3L353.1 652.0M340.7 652.0L353.1 652.0L359.3 662.7L353.1 673.4M340.7 673.4L353.1 673.4L359.3 684.1L353.1 694.8M340.7 694.8L353.1 694.8L359.3 705.5L353.1 716.2M340.7 716.2L353.1 716.2L359.3 726.9L353.1 737.7M340.7 737.6L353.1 737.6L359.3 748.4L353.1 759.1M340.7 759.1L353.1 759.1L359.3 769.8L353.1 780.5M340.7 780.5L353.1 780.5L359.3 791.2L353.1 801.9M359.3 512.7L371.7 512.7L377.9 523.5L371.7 534.2M359.3 534.2L371.7 534.2L377.9 544.9L371.7 555.6M359.3 555.6L371.7 555.6L377.9 566.3L371.7 577.0M359.3 577.0L371.7 577.0L377.9 587.7L371.7 598.4M359.3 598.4L371.7 598.4L377.9 609.1L371.7 619.8M359.3 619.8L371.7 619.8L377.9 630.6L371.7 641.3M359.3 641.3L371.7 641.3L377.9 652.0L371.7 662.7M359.3 662.7L371.7 662.7L377.9 673.4L371.7 684.1M359.3 684.1L371.7 684.1L377.9 694.8L371.7 705.5M359.3 705.5L371.7 705.5L377.9 716.2L371.7 726.9M359.3 726.9L371.7 726.9L377.9 737.7L371.7 748.4M359.3 748.4L371.7 748.4L377.9 759.1L371.7 769.8M359.3 769.8L371.7 769.8L377.9 780.5L371.7 791.2M359.3 791.2L371.7 791.2L377.9 801.9L371.7 812.6" stroke="#fff" stroke-width="1.5" fill="none" stroke-linejoin="round"/>
<!-- walls -->
<rect x="65.3" y="0" width="895.0" height="29.8" fill="#267345"/>
<rect x="65.3" y="0" width="29.6" height="419" fill="#267345"/>
<rect x="65.3" y="537.7" width="29.6" height="260.3" fill="#267345"/>
<rect x="65.3" y="768" width="900.0" height="30" fill="#267345"/>
<rect x="0" y="419" width="94.9" height="118.7" fill="#fff"/>
<rect x="94.5" y="250" width="177.6" height="93.6" fill="#267345"/>
<rect x="95.2" y="258.4" width="53.0" height="76.6" fill="#fff"/>
<rect x="156" y="258.4" width="108.2" height="76.6" fill="#fff"/>
<rect x="260.6" y="343" width="11.5" height="70.2" fill="#267345"/>
<rect x="260.6" y="401.3" width="44.3" height="11.9" fill="#267345"/>
<rect x="94.5" y="589" width="85.4" height="179.5" fill="#267345"/>
<rect x="94.9" y="598.8" width="77.3" height="107.8" fill="#fff"/>
<rect x="94.9" y="714.9" width="77.3" height="53.0" fill="#fff"/>
<rect x="171.7" y="545.8" width="68.1" height="9.4" fill="#267345"/>
<rect x="171.7" y="545.8" width="8.2" height="222.7" fill="#267345"/>
<rect x="334" y="546" width="106" height="9" fill="#267345"/>
<rect x="428.8" y="537.7" width="11.3" height="230.8" fill="#267345"/>
<rect x="410.8" y="401.3" width="189.2" height="12.1" fill="#267345"/>
<rect x="428.8" y="401.3" width="171.2" height="29.5" fill="#267345"/>
<rect x="590" y="419.2" width="182" height="11.6" fill="#267345"/>
<rect x="771.3" y="30" width="43.2" height="23.3" fill="#267345"/>
<rect x="771.3" y="242" width="43.2" height="188.8" fill="#267345"/>
<rect x="771.3" y="384.3" width="194.0" height="46.5" fill="#267345"/>
<rect x="919" y="495.8" width="46.3" height="212.2" fill="#fff"/>
<rect x="919" y="384.3" width="46.3" height="111.5" fill="#267345"/>
<rect x="947.6" y="384.3" width="17.7" height="119.5" fill="#267345"/>
<rect x="947.6" y="700.2" width="17.7" height="97.8" fill="#267345"/>
<rect x="919" y="707.7" width="46.3" height="90.3" fill="#267345"/>
<rect x="951.8" y="30.4" width="55.2" height="353.6" fill="#fff"/>
<rect x="965.3" y="384" width="41.7" height="414" fill="#fff"/>
<!-- kitchen furniture -->
<path d="M95.6 30.4H405.3V100.6H166V179.7H95.6Z" fill="#8fb98a" stroke="#1a6436" stroke-width="1.7"/>
<rect x="203.3" y="33" width="64.0" height="64.2" fill="#a5cfa0" stroke="#1a6436" stroke-width="1.7"/>
<circle cx="221.3" cy="51.1" r="11.4" fill="none" stroke="#1a6436" stroke-width="1.7"/>
<circle cx="221.3" cy="79.2" r="11.4" fill="none" stroke="#1a6436" stroke-width="1.7"/>
<circle cx="249.7" cy="51.1" r="11.4" fill="none" stroke="#1a6436" stroke-width="1.7"/>
<circle cx="249.7" cy="79.2" r="11.4" fill="none" stroke="#1a6436" stroke-width="1.7"/>
<rect x="110" y="100.4" width="52.55" height="61.1" fill="#a5cfa0" stroke="#1a6436" stroke-width="1.7"/>
<circle cx="128.9" cy="131.1" r="7.8" fill="none" stroke="#1a6436" stroke-width="1.7"/>
<rect x="109.6" y="128.3" width="16.9" height="5.5" fill="#a5cfa0" stroke="#1a6436" stroke-width="1.5"/>
<path d="M121.7 128.3V133.8" fill="none" stroke="#1a6436" stroke-width="1.5"/>
<ellipse cx="104.5" cy="130.8" rx="3.9" ry="5.1" fill="none" stroke="#1a6436" stroke-width="1.5"/>
<rect x="101.9" y="130" width="5.2" height="15.3" rx="2.6" fill="none" stroke="#1a6436" stroke-width="1.5"/>
<rect x="95.6" y="179.7" width="70.3" height="70.3" fill="#a5cfa0" stroke="#1a6436" stroke-width="1.7"/>
<path d="M165.9 179.7H184.8L167.2 250H165.9Z" fill="#a5cfa0" stroke="#1a6436" stroke-width="1.7"/>
<path d="M104.7 215.1L156.7 215.1M112.3 196.7L149.1 233.5M130.7 189.1L130.7 241.1M149.1 196.7L112.3 233.5" fill="none" stroke="#1a6436" stroke-width="1.9" stroke-linecap="round"/>
<rect x="95.6" y="343.6" width="165.0" height="60.8" fill="#8fb98a" stroke="#1a6436" stroke-width="1.7"/>
<path d="M95.6 369.6H260.6" fill="none" stroke="#1a6436" stroke-width="1.8"/>
<path d="M102.9 346.4L106.4 391.7M117.7 346.4L114.8 391.7M127.9 346.4L126.0 391.7M136.2 346.4L139.8 391.7M144.1 346.4L147.4 391.7M153.4 346.4L157.0 391.7M161.7 346.4L165.3 391.7M175.1 346.4L172.7 391.7M181.5 346.4L183.9 391.7M189.1 346.4L192.2 391.7M203.4 346.4L200.6 391.7M213.7 346.4L211.3 391.7M222.0 346.4L225.6 391.7M229.9 346.4L233.2 391.7M238.7 346.4L242.3 391.7M247.8 346.4L251.1 391.7" fill="none" stroke="#1a6436" stroke-width="1.65" stroke-linecap="round"/>
<rect x="95.6" y="395.1" width="82.4" height="9.3" fill="#a5cfa0" stroke="#1a6436" stroke-width="1.7"/>
<rect x="178" y="395.1" width="82.6" height="9.3" fill="#a5cfa0" stroke="#1a6436" stroke-width="1.7"/>
<path d="M95.6 399.7H260.6" fill="none" stroke="#1a6436" stroke-width="1.7"/>
<rect x="474.2" y="30.6" width="21.4" height="88.7" rx="3.5" fill="#8fb98a" stroke="#1a6436" stroke-width="1.7"/>
<rect x="673.2" y="30.6" width="21.4" height="88.7" rx="3.5" fill="#8fb98a" stroke="#1a6436" stroke-width="1.7"/>
<rect x="496.6" y="30.6" width="86.7" height="26.6" rx="3.5" fill="#8fb98a" stroke="#1a6436" stroke-width="1.7"/>
<rect x="584.5" y="30.6" width="87.7" height="26.6" rx="3.5" fill="#8fb98a" stroke="#1a6436" stroke-width="1.7"/>
<rect x="496.6" y="58.4" width="86.7" height="60.9" rx="3.5" fill="#a5cfa0" stroke="#1a6436" stroke-width="1.7"/>
<rect x="584.5" y="58.4" width="87.7" height="60.9" rx="3.5" fill="#a5cfa0" stroke="#1a6436" stroke-width="1.7"/>
<g transform="translate(611.2 319)"><rect x="-24.3" y="-29.2" width="48.6" height="29.2" fill="#8fb98a" stroke="#1a6436" stroke-width="1.7"/><path d="M-19.2 0V-29.3Q-19.2 -32.3 -16.2 -32.3H16.2Q19.2 -32.3 19.2 -29.3V0Z" fill="#a5cfa0" stroke="#1a6436" stroke-width="1.7"/><path d="M-19.2 -25.7H19.2" fill="none" stroke="#1a6436" stroke-width="1.7"/><path d="M-20 -33.6Q-20 -38.3 -15.5 -38.3H15.5Q20 -38.3 20 -33.6Q20 -32.3 18.5 -32.3H-18.5Q-20 -32.3 -20 -33.6Z" fill="#8fb98a" stroke="#1a6436" stroke-width="1.7"/></g>
<g transform="translate(681.4 319)"><rect x="-24.3" y="-29.2" width="48.6" height="29.2" fill="#8fb98a" stroke="#1a6436" stroke-width="1.7"/><path d="M-19.2 0V-29.3Q-19.2 -32.3 -16.2 -32.3H16.2Q19.2 -32.3 19.2 -29.3V0Z" fill="#a5cfa0" stroke="#1a6436" stroke-width="1.7"/><path d="M-19.2 -25.7H19.2" fill="none" stroke="#1a6436" stroke-width="1.7"/><path d="M-20 -33.6Q-20 -38.3 -15.5 -38.3H15.5Q20 -38.3 20 -33.6Q20 -32.3 18.5 -32.3H-18.5Q-20 -32.3 -20 -33.6Z" fill="#8fb98a" stroke="#1a6436" stroke-width="1.7"/></g>
<g transform="translate(571 358.8) rotate(-90)"><rect x="-24.3" y="-29.2" width="48.6" height="29.2" fill="#8fb98a" stroke="#1a6436" stroke-width="1.7"/><path d="M-19.2 0V-29.3Q-19.2 -32.3 -16.2 -32.3H16.2Q19.2 -32.3 19.2 -29.3V0Z" fill="#a5cfa0" stroke="#1a6436" stroke-width="1.7"/><path d="M-19.2 -25.7H19.2" fill="none" stroke="#1a6436" stroke-width="1.7"/><path d="M-20 -33.6Q-20 -38.3 -15.5 -38.3H15.5Q20 -38.3 20 -33.6Q20 -32.3 18.5 -32.3H-18.5Q-20 -32.3 -20 -33.6Z" fill="#8fb98a" stroke="#1a6436" stroke-width="1.7"/></g>
<g transform="translate(722 358.8) rotate(90)"><rect x="-24.3" y="-29.2" width="48.6" height="29.2" fill="#8fb98a" stroke="#1a6436" stroke-width="1.7"/><path d="M-19.2 0V-29.3Q-19.2 -32.3 -16.2 -32.3H16.2Q19.2 -32.3 19.2 -29.3V0Z" fill="#a5cfa0" stroke="#1a6436" stroke-width="1.7"/><path d="M-19.2 -25.7H19.2" fill="none" stroke="#1a6436" stroke-width="1.7"/><path d="M-20 -33.6Q-20 -38.3 -15.5 -38.3H15.5Q20 -38.3 20 -33.6Q20 -32.3 18.5 -32.3H-18.5Q-20 -32.3 -20 -33.6Z" fill="#8fb98a" stroke="#1a6436" stroke-width="1.7"/></g>
<rect x="570.9" y="318.8" width="151.2" height="100.0" fill="#8fb98a" stroke="#1a6436" stroke-width="1.7"/>
<!-- bathroom -->
<rect x="95.6" y="546.3" width="76.1" height="43.0" fill="#8fb98a" stroke="#1a6436" stroke-width="1.7"/>
<rect x="95.6" y="546.3" width="76.1" height="12.8" fill="#a5cfa0" stroke="#1a6436" stroke-width="1.7"/>
<path d="M102.4 559.1V554.8A5.8 5.8 0 0 1 114.0 554.8V559.1M102.4 556.1H114.0M117.6 559.1V554.8A5.8 5.8 0 0 1 129.2 554.8V559.1M117.6 556.1H129.2M137.8 559.1V554.8A5.8 5.8 0 0 1 149.4 554.8V559.1M137.8 556.1H149.4M152.8 559.1V554.8A5.8 5.8 0 0 1 164.4 554.8V559.1M152.8 556.1H164.4" fill="none" stroke="#1a6436" stroke-width="1.5"/>
<path d="M111.5 572.8L106.8 569.9L102.1 572.8L105.0 568.1L102.1 563.4L106.8 566.3L111.5 563.4L108.6 568.1ZM111.5 585.8L106.8 582.9L102.1 585.8L105.0 581.1L102.1 576.4L106.8 579.3L111.5 576.4L108.6 581.1ZM129.4 572.8L124.7 569.9L120.0 572.8L122.9 568.1L120.0 563.4L124.7 566.3L129.4 563.4L126.5 568.1ZM129.4 585.8L124.7 582.9L120.0 585.8L122.9 581.1L120.0 576.4L124.7 579.3L129.4 576.4L126.5 581.1ZM146.9 572.8L142.2 569.9L137.5 572.8L140.4 568.1L137.5 563.4L142.2 566.3L146.9 563.4L144.0 568.1ZM146.9 585.8L142.2 582.9L137.5 585.8L140.4 581.1L137.5 576.4L142.2 579.3L146.9 576.4L144.0 581.1ZM164.8 572.8L160.1 569.9L155.4 572.8L158.3 568.1L155.4 563.4L160.1 566.3L164.8 563.4L161.9 568.1ZM164.8 585.8L160.1 582.9L155.4 585.8L158.3 581.1L155.4 576.4L160.1 579.3L164.8 576.4L161.9 581.1Z" fill="#1a6436" stroke="#1a6436" stroke-width="0.5" stroke-linejoin="round"/>
<rect x="180.5" y="555.2" width="58.9" height="58.2" fill="#8fb98a" stroke="#1a6436" stroke-width="1.7"/>
<path d="M191.9 584.6L192.3 582.9L192.8 581.2L193.5 579.6L194.3 578.2L195.2 576.8L196.3 575.6L197.4 574.5L198.7 573.5L200.0 572.7L201.4 572.0L202.8 571.5L204.2 571.1L205.6 570.9L207.1 570.8L208.4 570.8L209.8 571.1L211.1 571.4L212.3 571.8L213.5 572.4L214.6 573.1L215.5 573.8L216.4 574.7L217.2 575.6L217.8 576.6L218.4 577.6L218.8 578.6L219.1 579.6L219.3 580.7L219.4 581.7L219.4 582.7L219.2 583.7L219.0 584.6L218.7 585.5L218.3 586.3L217.8 587.0L217.3 587.7L216.7 588.3L216.1 588.8L215.4 589.2L214.8 589.6L214.1 589.8L213.4 590.0L212.7 590.1L212.1 590.1L211.4 590.0L210.9 589.9L210.3 589.7L209.8 589.5L209.4 589.2L209.0 588.8L208.6 588.5L208.4 588.1L208.2 587.7L208.0 587.3L207.9 586.9L207.9 586.5L207.9 586.1L208.0 585.8L208.2 585.5L208.3 585.2M227.7 584.6L227.3 586.3L226.8 588.0L226.1 589.6L225.3 591.0L224.4 592.4L223.3 593.6L222.2 594.7L220.9 595.7L219.6 596.5L218.2 597.2L216.8 597.7L215.4 598.1L214.0 598.3L212.5 598.4L211.2 598.4L209.8 598.1L208.5 597.8L207.3 597.4L206.1 596.8L205.0 596.1L204.1 595.4L203.2 594.5L202.4 593.6L201.8 592.6L201.2 591.6L200.8 590.6L200.5 589.6L200.3 588.5L200.2 587.5L200.2 586.5L200.4 585.5L200.6 584.6L200.9 583.7L201.3 582.9L201.8 582.2L202.3 581.5L202.9 580.9L203.5 580.4L204.2 580.0L204.8 579.6L205.5 579.4L206.2 579.2L206.9 579.1L207.5 579.1L208.2 579.2L208.7 579.3L209.3 579.5L209.8 579.8L210.2 580.0L210.6 580.4L211.0 580.7L211.2 581.1L211.4 581.5L211.6 581.9L211.7 582.3L211.7 582.7L211.7 583.1L211.6 583.4L211.4 583.7L211.3 584.0" fill="none" stroke="#1a6436" stroke-width="1.8" stroke-linecap="round" stroke-linejoin="round"/>
<path d="M196.5 743.8V699.5A12 12 0 0 1 208.5 687.5H225.6A12 12 0 0 1 237.6 699.5V743.8Z" fill="#8fb98a" stroke="#1a6436" stroke-width="1.7"/>
<path d="M196.5 735.2H237.6" fill="none" stroke="#1a6436" stroke-width="1.7"/>
<rect x="180.5" y="743.8" width="73.0" height="24.2" fill="#a5cfa0" stroke="#1a6436" stroke-width="1.7"/>
<rect x="265.6" y="716.5" width="67.1" height="51.5" fill="#8fb98a" stroke="#1a6436" stroke-width="1.9"/>
<path d="M265.6 723.6H332.7" fill="none" stroke="#1a6436" stroke-width="1.9"/>
<rect x="268.9" y="729.5" width="60.7" height="26.8" fill="#a5cfa0" stroke="#1a6436" stroke-width="1.9"/>
<rect x="296.9" y="736.7" width="5.0" height="20.3" fill="#a5cfa0" stroke="#1a6436" stroke-width="1.6"/>
<circle cx="299.4" cy="759.2" r="3.7" fill="#a5cfa0" stroke="#1a6436" stroke-width="1.6"/>
<rect x="344.9" y="555.4" width="83.9" height="212.4" fill="#8fb98a" stroke="#1a6436" stroke-width="1.7"/>
<rect x="353.1" y="563.5" width="68.0" height="191.4" fill="#a5cfa0" stroke="#1a6436" stroke-width="1.7"/>
<circle cx="386.7" cy="712.1" r="15.4" fill="none" stroke="#1a6436" stroke-width="1.7"/>
<circle cx="386.7" cy="712.1" r="6.8" fill="none" stroke="#1a6436" stroke-width="1.7"/>
<circle cx="386.7" cy="712.1" r="3.8" fill="none" stroke="#1a6436" stroke-width="1.7"/>
<circle cx="386.7" cy="734.2" r="3.6" fill="none" stroke="#1a6436" stroke-width="1.7"/>
<rect x="382.6" y="754.9" width="9.0" height="8.5" fill="#8fb98a" stroke="#1a6436" stroke-width="1.2"/>
<rect x="374.1" y="763.4" width="25.6" height="4.4" fill="#8fb98a" stroke="#1a6436" stroke-width="1.2"/>
<!-- bedroom -->
<rect x="440.9" y="567.7" width="61.6" height="200.0" fill="#8fb98a" stroke="#1a6436" stroke-width="1.7"/>
<rect x="492.8" y="567.7" width="4.8" height="100.4" fill="#a5cfa0" stroke="#1a6436" stroke-width="1.6"/>
<rect x="497.6" y="567.7" width="4.9" height="100.4" fill="#a5cfa0" stroke="#1a6436" stroke-width="1.6"/>
<rect x="492.8" y="668.1" width="4.8" height="99.6" fill="#a5cfa0" stroke="#1a6436" stroke-width="1.6"/>
<rect x="497.6" y="668.1" width="4.9" height="99.6" fill="#a5cfa0" stroke="#1a6436" stroke-width="1.6"/>
<path d="M467 567.7V767.7" fill="none" stroke="#1a6436" stroke-width="1.8"/>
<path d="M444.4 575.3L489.6 572.2M444.4 583.4L489.6 580.2M444.4 591.3L489.6 593.4M444.4 601.7L489.6 604.8M444.4 616.4L489.6 612.9M444.4 624.3L489.6 621.2M444.4 630.3L489.6 632.1M444.4 643.5L489.6 640.0M444.4 652.1L489.6 648.6M444.4 660.9L489.6 658.1M444.4 669.2L489.6 666.1M444.4 677.1L489.6 678.9M444.4 687.3L489.6 690.3M444.4 702.3L489.6 698.7M444.4 709.8L489.6 707.0M444.4 718.6L489.6 721.1M444.4 731.5L489.6 729.0M444.4 743.2L489.6 739.5M444.4 749.2L489.6 751.3M444.4 762.1L489.6 758.9" fill="none" stroke="#1a6436" stroke-width="1.65" stroke-linecap="round"/>
<rect x="665.5" y="430.7" width="173.2" height="35.7" fill="#8fa48c" stroke="#1a6436" stroke-width="1.7"/>
<path d="M686.3 438.4L709.6 433.5H793L816.4 438.4V443.4H686.3Z" fill="#a5cfa0" stroke="#1a6436" stroke-width="1.3"/>
<path d="M686.3 438.3H816.4" fill="none" stroke="#1a6436" stroke-width="1.0"/>
<path d="M695.3 440.8H703.6M706.6 440.8H714.5M717.5 440.8H723.5" fill="none" stroke="#1a6436" stroke-width="1.0"/>
<rect x="587.5" y="714.6" width="68.9" height="50.3" fill="#8fa48c" stroke="#1a6436" stroke-width="1.7"/>
<rect x="849.7" y="714.6" width="69.3" height="50.3" fill="#8fa48c" stroke="#1a6436" stroke-width="1.7"/>
<rect x="656.4" y="502.6" width="193.3" height="236.2" rx="8" fill="#8fb98a" stroke="#1a6436" stroke-width="1.7"/>
<rect x="657.1" y="739.8" width="191.9" height="27.6" rx="8" fill="#8fb98a" stroke="#1a6436" stroke-width="1.7"/>
<path d="M678.9 666.3C677.6 668.8 673.2 676.4 671.3 681.4C669.4 686.4 668.1 691.8 667.5 696.5C667.0 701.2 667.9 707.5 667.9 709.7C671.3 711.1 681.4 716.1 688.3 718.2C695.2 720.3 702.6 721.6 709.1 722.4C715.5 723.1 724.0 722.8 727.0 722.9C727.5 721.4 729.4 718.5 730.2 713.5C731.0 708.5 732.4 699.3 731.7 692.7C731.0 686.1 727.0 677.0 726.0 673.9C722.6 672.8 713.1 668.7 705.3 667.5C697.4 666.2 683.3 666.5 678.9 666.3Z" fill="#a5cfa0" stroke="#1a6436" stroke-width="1.9" stroke-linejoin="round" stroke-linecap="round"/>
<path d="M683.6 666.3C682.3 668.8 677.9 676.4 676.0 681.4C674.2 686.4 672.8 691.5 672.3 696.5C671.7 701.5 672.7 709.1 672.8 711.6M722.3 722.4C722.7 720.7 724.6 714.2 725.1 712.5M714.7 710.7C714.9 711.8 715.8 715.4 715.8 717.3C715.8 719.2 714.9 721.2 714.7 722.0" fill="none" stroke="#1a6436" stroke-width="1.4" stroke-linejoin="round" stroke-linecap="round"/>
<path d="M785.5 679.5C788.1 678.6 798.8 674.8 801.5 673.9L804.3 673.9L806.8 678.0L809.1 673.9L820.4 673.3C821.9 676.2 827.4 684.8 829.8 690.8C832.3 696.9 834.3 705.1 835.1 709.7C835.9 714.4 834.6 717.3 834.5 718.8C831.2 720.1 821.8 724.6 814.7 726.7C807.6 728.8 798.6 730.5 792.1 731.4C785.5 732.3 778.2 731.9 775.5 732.0C774.9 730.2 771.4 727.6 772.3 721.0C773.1 714.5 778.6 699.7 780.8 692.7C783.0 685.8 784.7 681.7 785.5 679.5Z" fill="#a5cfa0" stroke="#1a6436" stroke-width="1.9" stroke-linejoin="round" stroke-linecap="round"/>
<path d="M815.7 673.7C817.3 676.7 823.1 685.6 825.7 691.8C828.2 698.0 829.9 705.9 830.8 710.7C831.6 715.4 830.8 718.8 830.8 720.5M780.8 731.6C780.2 729.8 777.9 722.8 777.4 721.0M789.2 720.1C789.1 721.0 788.2 724.0 788.3 725.8C788.4 727.5 789.6 730.0 789.8 730.8" fill="none" stroke="#1a6436" stroke-width="1.4" stroke-linejoin="round" stroke-linecap="round"/>
<path d="M729.4 666.3C728.2 668.5 724.0 675.1 722.3 679.5C720.5 683.9 719.3 688.3 718.9 692.7C718.4 697.2 719.3 704.1 719.4 706.3C722.7 707.7 732.8 712.3 739.2 714.4C745.7 716.6 751.8 718.1 758.1 719.2C764.4 720.2 773.8 720.3 777.0 720.5C777.9 716.8 781.4 706.2 782.6 698.4C783.9 690.6 784.2 678.0 784.5 673.9C783.3 673.2 780.8 671.4 777.0 670.1C773.2 668.8 769.8 666.9 761.9 666.3C754.0 665.7 734.8 666.3 729.4 666.3Z" fill="#a5cfa0" stroke="#1a6436" stroke-width="1.9" stroke-linejoin="round" stroke-linecap="round"/>
<path d="M734.2 666.3C733.0 668.5 728.7 675.1 727.0 679.5C725.3 683.9 724.2 688.0 723.8 692.7C723.3 697.5 724.1 705.6 724.2 708.2M773.2 720.1C774.2 716.5 777.7 706.4 778.9 698.4C780.1 690.4 780.1 676.7 780.4 672.4M764.2 707.8C764.4 708.8 765.4 711.5 765.5 713.5C765.6 715.4 764.8 718.5 764.7 719.5" fill="none" stroke="#1a6436" stroke-width="1.4" stroke-linejoin="round" stroke-linecap="round"/>
<path d="M666.5 667.3V527Q666.5 517 676.5 517H829.8Q839.8 517 839.8 527V667.3Z" fill="#a5cfa0" stroke="#1a6436" stroke-width="1.7"/>
<path d="M693 667.6L694.5 670.2L696.2 667.6" fill="none" stroke="#1a6436" stroke-width="1.3" stroke-linejoin="round" stroke-linecap="round"/>
<path d="M670.4 667.1C672.4 665.8 679.2 661.6 682.6 659.2C686.1 656.7 689.1 654.9 691.1 652.5C693.2 650.2 693.5 646.9 694.9 645.0C696.3 643.1 697.3 642.3 699.6 641.2C702.0 640.1 706.1 639.4 709.1 638.4C712.0 637.4 716.1 635.6 717.5 635.0C717.9 636.2 719.2 639.3 719.6 642.2C720.1 645.0 720.2 652.2 720.4 652.2C720.6 652.2 720.9 645.2 720.9 642.2C720.9 639.2 720.5 635.4 720.4 634.1L743.0 625.6L746.8 629.9L751.9 634.2L748.3 629.0L747.2 623.9L796.8 606.7L838.3 666.3" fill="none" stroke="#1a6436" stroke-width="1.4" stroke-linejoin="round" stroke-linecap="round"/>
<path d="M768.5 618.0C770.5 617.8 776.8 616.6 780.8 616.7C784.7 616.8 788.3 616.9 792.1 618.6C795.8 620.3 799.9 623.1 803.4 627.1C806.9 631.0 810.0 637.0 812.8 642.2C815.7 647.4 818.2 654.7 820.4 658.2C822.6 661.7 823.1 661.6 826.0 662.9C829.0 664.3 836.3 665.8 838.3 666.3" fill="none" stroke="#1a6436" stroke-width="1.4" stroke-linejoin="round" stroke-linecap="round"/>
<path d="M700.0 664.4C703.7 663.9 715.4 662.4 722.3 661.0C729.1 659.7 736.1 657.3 741.1 656.3C746.2 655.4 749.0 655.2 752.5 655.4C755.9 655.6 758.4 656.5 761.9 657.6C765.3 658.7 769.7 660.6 773.2 662.0C776.7 663.3 779.2 664.9 782.6 665.8C786.1 666.6 792.1 666.9 794.0 667.1" fill="none" stroke="#1a6436" stroke-width="1.4" stroke-linejoin="round" stroke-linecap="round"/>
<!-- doors and windows -->
<rect x="75.5" y="419" width="8.1" height="4.5" fill="#fff" stroke="#357f52" stroke-width="0.9"/>
<rect x="75.1" y="529.5" width="8.6" height="8.2" fill="#fff" stroke="#357f52" stroke-width="0.9"/>
<g transform="translate(79.4 533.6) rotate(-135)" fill="none" stroke="#24713f" stroke-width="0.95"><rect x="0" y="0" width="111.3" height="6.1"/><path d="M16.2 0V6.1M95.8 0V6.1M16.2 3.05H95.8"/></g>
<path d="M5.0 450.65A107 107 0 0 1 75.5 423.5" fill="none" stroke="#24713f" stroke-width="0.95"/>
<rect x="304.9" y="403.2" width="7.4" height="8.1" fill="none" stroke="#357f52" stroke-width="0.9"/>
<rect x="407.2" y="403.2" width="3.6" height="8.1" fill="none" stroke="#357f52" stroke-width="0.9"/>
<g transform="translate(308.1 407.1) rotate(-45)" fill="none" stroke="#24713f" stroke-width="0.95"><rect x="0" y="0" width="100.4" height="5.9"/><path d="M14.2 0V5.9M85.9 0V5.9M14.2 2.95H85.9"/></g>
<path d="M379.1 336.1A100 100 0 0 1 407.6 403.4" fill="none" stroke="#24713f" stroke-width="0.95"/>
<rect x="430.4" y="430.6" width="8.4" height="7.6" fill="none" stroke="#357f52" stroke-width="0.9"/>
<rect x="430.4" y="533.6" width="8.4" height="4.2" fill="none" stroke="#357f52" stroke-width="0.9"/>
<g transform="translate(434.8 434.6) rotate(45)" fill="none" stroke="#24713f" stroke-width="0.95"><rect x="0" y="0" width="100" height="5.9"/><path d="M14.2 0V5.9M85.5 0V5.9M14.2 2.95H85.5"/></g>
<path d="M505.3 505.5A100 100 0 0 1 438.3 533.8" fill="none" stroke="#24713f" stroke-width="0.95"/>
<rect x="239.8" y="546.2" width="7.1" height="6.8" fill="none" stroke="#357f52" stroke-width="0.9"/>
<rect x="330.2" y="546.2" width="3.8" height="6.8" fill="none" stroke="#357f52" stroke-width="0.9"/>
<g transform="translate(243 549.3) rotate(-45)" fill="none" stroke="#24713f" stroke-width="0.95"><rect x="0" y="0" width="88" height="5.9"/><path d="M14.2 0V5.9M73.5 0V5.9M14.2 2.95H73.5"/></g>
<path d="M305.2 486.9A88 88 0 0 1 330.6 546.4" fill="none" stroke="#24713f" stroke-width="0.95"/>
<rect x="789.4" y="135.5" width="7.3" height="3.8" fill="none" stroke="#357f52" stroke-width="0.9"/>
<rect x="789.4" y="234.5" width="7.5" height="7.5" fill="none" stroke="#357f52" stroke-width="0.9"/>
<g transform="translate(793.15 238.25) rotate(-135)" fill="none" stroke="#24713f" stroke-width="0.95"><rect x="0" y="0" width="100.05" height="5.9"/><path d="M14.2 0V5.9M85.55 0V5.9M14.2 2.95H85.55"/></g>
<path d="M726.5 163.4A98 98 0 0 1 789.7 139.3" fill="none" stroke="#24713f" stroke-width="0.95"/>
<rect x="771.6" y="53.3" width="42.7" height="82.2" fill="#fff" stroke="#24713f" stroke-width="0.9"/>
<rect x="787.8" y="53.3" width="9.4" height="82.2" fill="#e6f0e7" stroke="#24713f" stroke-width="0.8"/>
<rect x="791.2" y="53.3" width="4.2" height="82.2" fill="#fff" stroke="#24713f" stroke-width="0.8"/>
<path d="M789.6 53.3V135.5" stroke="#24713f" stroke-width="0.8" fill="none"/>
<path d="M787.7 59.9H797.2M787.7 128.8H797.2" stroke="#5c9471" stroke-width="0.8" fill="none"/>
<rect x="952.5" y="30.4" width="7.9" height="353.6" fill="#fff" stroke="#5c9471" stroke-width="1.4"/>
<path d="M954.7 30.4V384M957.6 30.4V384" stroke="#5c9471" stroke-width="1" fill="none"/>
<rect x="953.6" y="30.4" width="4.9" height="4.5" fill="#fff" stroke="#5c9471" stroke-width="0.8"/>
<rect x="953.6" y="35.8" width="4.9" height="4.5" fill="#fff" stroke="#5c9471" stroke-width="0.8"/>
<rect x="953.6" y="107.2" width="4.9" height="4.5" fill="#fff" stroke="#5c9471" stroke-width="0.8"/>
<rect x="953.6" y="113.1" width="4.9" height="4.5" fill="#fff" stroke="#5c9471" stroke-width="0.8"/>
<rect x="953.6" y="118.6" width="4.9" height="4.5" fill="#fff" stroke="#5c9471" stroke-width="0.8"/>
<rect x="953.6" y="124.3" width="4.9" height="4.5" fill="#fff" stroke="#5c9471" stroke-width="0.8"/>
<rect x="953.6" y="195.8" width="4.9" height="6.4" fill="#fff" stroke="#5c9471" stroke-width="0.8"/>
<rect x="953.6" y="203.6" width="4.9" height="6.4" fill="#fff" stroke="#5c9471" stroke-width="0.8"/>
<rect x="953.6" y="211.4" width="4.9" height="6.4" fill="#fff" stroke="#5c9471" stroke-width="0.8"/>
<rect x="953.6" y="284.4" width="4.9" height="6.4" fill="#fff" stroke="#5c9471" stroke-width="0.8"/>
<rect x="953.6" y="292.2" width="4.9" height="6.4" fill="#fff" stroke="#5c9471" stroke-width="0.8"/>
<rect x="953.6" y="300.0" width="4.9" height="6.4" fill="#fff" stroke="#5c9471" stroke-width="0.8"/>
<rect x="953.6" y="373.0" width="4.9" height="4.8" fill="#fff" stroke="#5c9471" stroke-width="0.8"/>
<rect x="953.6" y="378.8" width="4.9" height="5" fill="#fff" stroke="#5c9471" stroke-width="0.8"/>
<path d="M919.4 495.8V707.7" stroke="#24713f" stroke-width="0.9" fill="none"/>
<path d="M936.3 495.8V707.7M938.7 495.8V707.7M944.6 495.8V707.7M946.9 495.8V707.7" stroke="#24713f" stroke-width="0.95" fill="none"/>
<path d="M936.3 502.6H946.9M936.3 700.6H946.9" stroke="#5c9471" stroke-width="0.8" fill="none"/>
<path d="M964.9 503.8V700.2" stroke="#5c9471" stroke-width="1.2" fill="none"/>
<path d="M965.3 492.8H1006V712.2H965.3M965.3 496.2H1002.5V708.5H965.3" stroke="#5c9471" stroke-width="0.9" fill="none"/>
<!-- labels -->
<filter id="tf" x="0" y="0" width="1007" height="798" filterUnits="userSpaceOnUse" color-interpolation-filters="sRGB"><feOffset dx="0" dy="0"/></filter><g filter="url(#tf)">
<text x="386.40" y="206.80" font-size="41.80" textLength="42.81" lengthAdjust="spacingAndGlyphs">1К</text>
<text x="352.60" y="259.65" font-size="41.80" textLength="112.23" lengthAdjust="spacingAndGlyphs">39,45</text>
<text x="555.30" y="192.10" font-size="26.40" textLength="98.29" lengthAdjust="spacingAndGlyphs" class="b" stroke="#000" stroke-width="1.2" stroke-linejoin="round">КУХНЯ</text>
<text x="570.30" y="229.20" font-size="26.00" textLength="67.69" lengthAdjust="spacingAndGlyphs">16,37</text>
<text x="800.80" y="182.40" font-size="26.40" textLength="134.71" lengthAdjust="spacingAndGlyphs" class="b" stroke="#1d1d1b" stroke-width="1.2" stroke-linejoin="round" style="fill:#1d1d1b">ЛОДЖИЯ</text>
<text x="838.00" y="216.75" font-size="26.00" textLength="58.97" lengthAdjust="spacingAndGlyphs">3,50</text>
<text x="107.30" y="468.40" font-size="26.40" textLength="171.65" lengthAdjust="spacingAndGlyphs" class="b" stroke="#000" stroke-width="1.2" stroke-linejoin="round">ПРИХОЖАЯ</text>
<text x="163.70" y="506.35" font-size="26.00" textLength="58.70" lengthAdjust="spacingAndGlyphs">4,25</text>
<text x="491.40" y="550.50" font-size="26.40" textLength="143.73" lengthAdjust="spacingAndGlyphs" class="b" stroke="#000" stroke-width="1.2" stroke-linejoin="round">СПАЛЬНЯ</text>
<text x="532.90" y="587.60" font-size="26.00" textLength="59.91" lengthAdjust="spacingAndGlyphs">11,54</text>
<text x="261.40" y="643.65" font-size="26.40" textLength="48.61" lengthAdjust="spacingAndGlyphs" class="b" stroke="#000" stroke-width="1.2" stroke-linejoin="round">С/У</text>
<text x="258.40" y="680.30" font-size="26.00" textLength="56.25" lengthAdjust="spacingAndGlyphs">3,79</text>
</g>
<rect x="341.4" y="218.3" width="135.1" height="1.5" fill="#000"/>
</svg>
</body></html>
